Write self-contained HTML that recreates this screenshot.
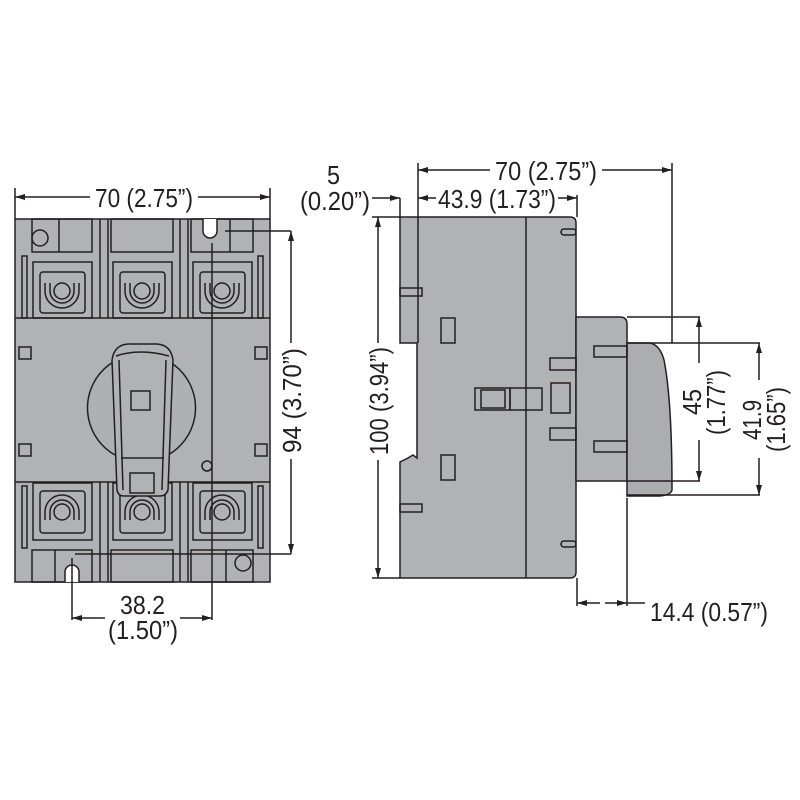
<!DOCTYPE html>
<html><head><meta charset="utf-8"><style>
html,body{margin:0;padding:0;background:#fff;width:800px;height:800px;overflow:hidden}
text{font-family:"Liberation Sans",sans-serif;font-size:26px;fill:#231f20}
</style></head><body>
<svg width="800" height="800" viewBox="0 0 800 800" xmlns="http://www.w3.org/2000/svg">
<defs>
<marker id="a" viewBox="0 0 10 6" refX="10" refY="3" markerWidth="10" markerHeight="6" orient="auto-start-reverse" markerUnits="userSpaceOnUse"><path d="M0,0 L10,3 L0,6 z" fill="#231f20"/></marker>
</defs>
<g stroke="#231f20" stroke-width="1.5" fill="none">
<rect x="15" y="219" width="255" height="363" fill="#b0b2b5"/>
<line x1="15" y1="318" x2="270" y2="318"/>
<line x1="15" y1="482" x2="270" y2="482"/>
<rect x="32" y="219" width="60" height="33"/><line x1="59" y1="219" x2="59" y2="252"/>
<rect x="111" y="219" width="62" height="33"/>
<rect x="191" y="219" width="62" height="33"/><line x1="230" y1="219" x2="230" y2="252"/>
<path d="M203,219 V231 A7,7 0 0 0 217,231 V219" fill="#fff"/>
<circle cx="40" cy="238" r="8"/>
<line x1="100" y1="219" x2="100" y2="318"/><line x1="108" y1="219" x2="108" y2="318"/>
<line x1="180" y1="219" x2="180" y2="318"/><line x1="188" y1="219" x2="188" y2="318"/>
<rect x="22" y="256" width="5" height="62"/><rect x="258" y="256" width="5" height="62"/>
<g id="tt">
<rect x="33" y="262" width="59" height="56"/>
<rect x="40" y="272" width="45" height="41" rx="3"/>
<path d="M45,283 V291 A17,17 0 0 0 79,291 V283 M50,283 V291 A12,12 0 0 0 74,291 V283"/>
<circle cx="62" cy="291" r="8"/>
</g>
<use href="#tt" x="80"/><use href="#tt" x="160"/>
<g id="bt">
<rect x="33" y="483" width="59" height="57"/>
<rect x="40" y="491" width="45" height="42" rx="3"/>
<path d="M45,520 V512 A17,17 0 0 1 79,512 V520 M50,520 V512 A12,12 0 0 1 74,512 V520"/>
<circle cx="62" cy="512" r="8"/>
</g>
<use href="#bt" x="80"/><use href="#bt" x="160"/>
<rect x="22" y="486" width="5" height="62"/><rect x="258" y="486" width="5" height="62"/>
<line x1="100" y1="482" x2="100" y2="582"/><line x1="108" y1="482" x2="108" y2="582"/>
<line x1="180" y1="482" x2="180" y2="582"/><line x1="188" y1="482" x2="188" y2="582"/>
<rect x="32" y="550" width="60" height="32"/><line x1="55" y1="550" x2="55" y2="582"/>
<rect x="111" y="550" width="62" height="32"/>
<rect x="191" y="550" width="62" height="32"/><line x1="226" y1="550" x2="226" y2="582"/>
<path d="M65,582 V572 A7,7 0 0 1 79,572 V582" fill="#fff"/>
<circle cx="243" cy="563" r="8"/>
<rect x="19" y="347" width="12" height="12"/><rect x="19" y="444" width="12" height="12"/>
<rect x="255" y="347" width="12" height="12"/><rect x="255" y="444" width="12" height="12"/>
<circle cx="207" cy="466" r="5"/>
<path d="M115,455 A54,54 0 1 1 168,455" fill="#aeb0b3"/>
<path d="M112,360 Q114,345 128,344 L157,344 Q171,345 173,360 L168,490 Q166,496 160,496 L124,496 Q118,496 117,490 Z" fill="#b0b2b5"/>
<path d="M119,360 L123,490 M166,360 L162,490 M116,356 Q140,348 169,356"/>
<line x1="121" y1="458" x2="164" y2="458"/>
<rect x="130" y="473" width="24" height="20"/>
<rect x="131" y="391" width="19" height="19"/>
<line x1="15" y1="188" x2="15" y2="219"/><line x1="270" y1="188" x2="270" y2="219"/>
<line x1="15" y1="197" x2="90" y2="197" marker-start="url(#a)"/>
<line x1="198" y1="197" x2="270" y2="197" marker-end="url(#a)"/>
<line x1="225" y1="231" x2="291" y2="231"/><line x1="75" y1="554" x2="291" y2="554"/>
<line x1="291" y1="231" x2="291" y2="343" marker-start="url(#a)"/>
<line x1="291" y1="459" x2="291" y2="554" marker-end="url(#a)"/>
<line x1="212" y1="243" x2="212" y2="620"/>
<line x1="72" y1="558" x2="72" y2="620"/>
<line x1="72" y1="618" x2="105" y2="618" marker-start="url(#a)"/>
<line x1="180" y1="618" x2="212" y2="618" marker-end="url(#a)"/>
<path d="M400,217 H570 Q576,217 576,223 V572 Q576,578 570,578 H400 V462 L408,458 L413,455 L417,458 V343 H400 Z" fill="#b0b2b5"/>
<line x1="526" y1="217" x2="526" y2="578"/>
<path d="M576,317 H620 Q627,317 627,324 V481 H576 Z" fill="#b0b2b5"/>
<path d="M627,343 H650 Q660,345 664,360 Q672,400 672,490 Q671,495 660,496 L627,496 Z" fill="#abadb0"/>
<rect x="400" y="288" width="22" height="8"/><rect x="400" y="504" width="22" height="8"/>
<rect x="441" y="318" width="14" height="25"/><rect x="441" y="455" width="14" height="25"/>
<rect x="475" y="388" width="35" height="22"/><rect x="510" y="388" width="32" height="22"/>
<rect x="481" y="390" width="24" height="18"/>
<rect x="550" y="358" width="26" height="12"/><rect x="550" y="428" width="26" height="12"/>
<rect x="551" y="383" width="19" height="30"/>
<rect x="594" y="346" width="33" height="11"/><rect x="594" y="441" width="33" height="11"/>
<rect x="561" y="229" width="15" height="6" rx="3"/><rect x="561" y="541" width="15" height="6" rx="3"/>
<line x1="418" y1="163" x2="418" y2="343"/><line x1="672" y1="163" x2="672" y2="343"/>
<line x1="418" y1="170" x2="490" y2="170" marker-start="url(#a)"/>
<line x1="602" y1="170" x2="672" y2="170" marker-end="url(#a)"/>
<line x1="418" y1="198" x2="436" y2="198" marker-start="url(#a)"/>
<line x1="558" y1="198" x2="577" y2="198" marker-end="url(#a)"/>
<line x1="577" y1="195" x2="577" y2="217"/>
<line x1="372" y1="198" x2="400" y2="198" marker-end="url(#a)"/>
<line x1="400" y1="198" x2="400" y2="217"/>
<line x1="372" y1="217" x2="400" y2="217"/><line x1="372" y1="578" x2="400" y2="578"/>
<line x1="378" y1="217" x2="378" y2="343" marker-start="url(#a)"/>
<line x1="378" y1="460" x2="378" y2="578" marker-end="url(#a)"/>
<line x1="627" y1="317" x2="700" y2="317"/><line x1="627" y1="481" x2="700" y2="481"/>
<line x1="627" y1="343" x2="760" y2="343"/><line x1="627" y1="495" x2="760" y2="495"/>
<line x1="699" y1="317" x2="699" y2="363" marker-start="url(#a)"/>
<line x1="699" y1="440" x2="699" y2="481" marker-end="url(#a)"/>
<line x1="759" y1="343" x2="759" y2="380" marker-start="url(#a)"/>
<line x1="759" y1="458" x2="759" y2="495" marker-end="url(#a)"/>
<line x1="577" y1="578" x2="577" y2="606"/><line x1="627" y1="498" x2="627" y2="606"/>
<line x1="577" y1="603" x2="600" y2="603" marker-start="url(#a)"/>
<line x1="605" y1="603" x2="627" y2="603" marker-end="url(#a)"/>
<line x1="627" y1="603" x2="645" y2="603"/>
</g>
<text x="95" y="207" textLength="98" lengthAdjust="spacingAndGlyphs">70 (2.75”)</text>
<text transform="translate(301,453) rotate(-90)" textLength="105" lengthAdjust="spacingAndGlyphs">94 (3.70”)</text>
<text x="120" y="614" textLength="45" lengthAdjust="spacingAndGlyphs">38.2</text>
<text x="108" y="639" textLength="70" lengthAdjust="spacingAndGlyphs">(1.50”)</text>
<text x="327" y="184" textLength="13" lengthAdjust="spacingAndGlyphs">5</text>
<text x="300" y="210" textLength="70" lengthAdjust="spacingAndGlyphs">(0.20”)</text>
<text x="495" y="180" textLength="102" lengthAdjust="spacingAndGlyphs">70 (2.75”)</text>
<text x="438" y="208" textLength="118" lengthAdjust="spacingAndGlyphs">43.9 (1.73”)</text>
<text transform="translate(388,455) rotate(-90)" textLength="108" lengthAdjust="spacingAndGlyphs">100 (3.94”)</text>
<text transform="translate(701,415) rotate(-90)" textLength="26" lengthAdjust="spacingAndGlyphs">45</text>
<text transform="translate(725,435) rotate(-90)" textLength="65" lengthAdjust="spacingAndGlyphs">(1.77”)</text>
<text transform="translate(761,440) rotate(-90)" textLength="40" lengthAdjust="spacingAndGlyphs">41.9</text>
<text transform="translate(785,452) rotate(-90)" textLength="65" lengthAdjust="spacingAndGlyphs">(1.65”)</text>
<text x="650" y="621" textLength="118" lengthAdjust="spacingAndGlyphs">14.4 (0.57”)</text>
</svg>
</body></html>
